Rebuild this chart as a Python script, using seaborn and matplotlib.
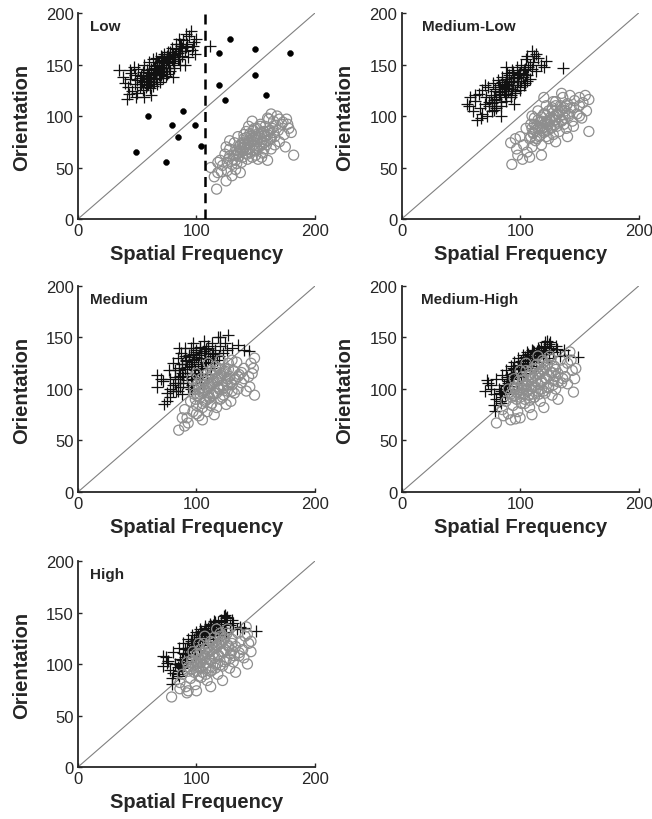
import numpy as np
import pandas as pd
import matplotlib
matplotlib.use("Agg")
import matplotlib.pyplot as plt
import seaborn as sns

# points (spatial frequency, orientation)
low_plus = [(35,145),(38,138),(41,117),(42,128),(44,136),(45,142),(46,124),(48,131),(48,140),(50,122),
            (50,135),(51,146),(52,128),(53,139),(54,133),(55,143),(55,125),(56,150),(57,137),(58,130),
            (58,145),(59,140),(60,152),(60,134),(61,127),(62,146),(62,138),(63,155),(64,142),(64,133),
            (65,149),(66,137),(66,156),(67,145),(68,140),(68,152),(69,133),(70,148),(70,158),(71,143),
            (72,153),(72,137),(73,160),(74,147),(75,141),(75,155),(76,162),(77,150),(78,144),(78,158),
            (79,166),(80,153),(81,147),(82,160),(83,170),(84,155),(85,163),(86,150),(87,168),(88,158),
            (89,174),(90,163),(92,170),(93,157),(94,178),(95,183),(97,168),(100,175),(98,172),(80,138),
            (62,120),(90,150),(111,168),(47,148),(56,118),(44,145),(40,132),(49,118),(43,121),(91,180),
            (96,164),(85,175),(99,160)]
low_plus_core = [(53,131),(56,134),(58,137),(61,136),(63,140),(65,143),(66,141),(68,146),(69,144),(71,150),
                 (72,147),(73,151),(74,153),(76,152),(77,156),(79,155),(80,159),(82,157),(84,161),(86,163),
                 (60,142),(64,147),(67,150),(70,154),(75,158),(78,162),(62,133),(66,136),(70,140),(73,144),
                 (77,147),(81,151),(85,155),(88,166),(57,128),(59,131),(63,129),(71,157),(83,165),(86,170),
                 (91,167),(74,139),(67,131),(55,140),(52,137)]
low_circ = [(117,29),(125,37),(112,50),(118,45),(120,57),(122,52),(124,63),(126,47),(127,58),(128,68),
            (130,53),(131,62),(132,74),(133,57),(134,67),(135,80),(136,61),(137,72),(138,55),(139,66),
            (140,78),(141,70),(142,85),(143,63),(144,74),(145,68),(146,80),(147,60),(148,72),(149,88),
            (150,66),(151,77),(152,83),(153,70),(154,92),(155,75),(156,64),(157,81),(158,90),(159,72),
            (160,85),(161,97),(162,78),(163,68),(164,88),(165,95),(166,80),(168,100),(169,86),(170,75),
            (172,92),(174,82),(176,97),(178,88),(182,62),(180,84),(160,57),(144,90),(133,48),(152,58),
            (166,72),(140,82),(128,76),(147,95),(155,60),(137,45),(170,97),(175,70),(115,41),(130,42),
            (160,98),(173,94),(177,92),(163,102),(125,70),(118,55)]
low_circ_core = [(131,58),(133,62),(135,64),(137,66),(138,69),(140,70),(141,73),(143,72),(144,76),(146,75),
                 (147,78),(149,77),(150,80),(152,79),(153,82),(155,84),(157,85),(158,80),(160,82),(162,86),
                 (136,70),(139,74),(142,79),(145,83),(148,86),(151,88),(154,90),(139,60),(142,64),(145,65),
                 (148,67),(151,69),(154,72),(157,74),(160,76),(163,78),(134,54),(128,61),(165,84),(167,91),
                 (143,58),(150,62),(157,68),(126,55),(121,46)]
low_dots = [(49,65),(59,100),(74,55),(79,91),(84,80),(89,105),(99,91),(104,71),(119,161),(128,175),
            (119,130),(124,116),(149,165),(149,140),(159,120),(179,161)]
low_cut = 107

medlow_plus = [(55,112),(58,118),(60,105),(62,115),(64,96),(65,121),(66,108),(68,102),(68,125),(70,112),
               (71,118),(72,100),(73,128),(74,110),(75,120),(76,105),(77,132),(78,116),(79,124),(80,110),
               (81,135),(82,120),(83,128),(84,114),(85,138),(86,124),(87,131),(88,118),(89,142),(90,127),
               (91,134),(92,120),(93,145),(94,130),(95,137),(96,124),(97,148),(98,134),(99,141),(100,128),
               (101,150),(102,138),(103,145),(104,132),(105,155),(106,140),(107,148),(108,136),(110,163),(111,152),
               (113,144),(115,156),(118,150),(122,153),(136,147),(84,100),(95,112),(70,130),(88,148),(112,158),
               (57,110),(62,120),(67,98),(113,160),(120,148),(106,158)]
medlow_plus_core = [(76,113),(78,118),(80,117),(82,123),(83,121),(85,126),(86,129),(88,127),(89,131),(91,130),
                    (92,134),(94,133),(95,138),(97,137),(98,140),(100,142),(102,141),(104,146),(79,126),(82,130),
                    (85,133),(88,136),(91,140),(94,143),(80,108),(84,110),(88,115),(92,118),(96,122),(100,125),
                    (103,130),(106,134),(87,121),(90,124),(93,126),(97,130),(101,134),(105,140),(74,114),(78,106),
                    (108,150),(110,146)]
medlow_circ = [(93,53),(92,74),(102,58),(97,68),(100,80),(103,72),(105,88),(106,65),(108,78),(109,92),
               (110,70),(111,84),(112,98),(113,76),(114,90),(115,105),(116,80),(117,94),(118,72),(119,88),
               (120,102),(121,85),(122,110),(123,92),(124,78),(125,98),(126,88),(127,106),(128,82),(129,96),
               (130,114),(131,90),(132,102),(133,85),(134,110),(135,96),(136,118),(137,92),(138,105),(139,88),
               (140,112),(141,100),(142,120),(144,95),(145,108),(146,115),(148,102),(150,110),(152,98),(155,120),
               (158,85),(156,105),(120,118),(130,75),(140,80),(110,100),(135,122),(118,62),(145,90),(150,118),
               (98,62),(96,78),(150,100),(153,113),(158,116),(108,60)]
medlow_circ_core = [(109,80),(111,83),(113,86),(115,88),(117,89),(119,91),(121,93),(123,95),(125,96),(127,98),
                    (129,100),(131,102),(133,104),(135,106),(137,108),(139,110),(112,92),(115,96),(118,99),(121,102),
                    (124,105),(127,108),(130,110),(114,78),(117,81),(120,84),(123,86),(126,89),(129,91),(132,93),
                    (135,95),(138,98),(141,102),(118,95),(124,92),(130,96),(136,101),(110,88),(143,108),(128,114),
                    (122,80)]

med_plus = [(67,114),(67,102),(73,85),(72,108),(75,96),(77,118),(78,92),(80,104),(80,125),(82,112),
            (83,98),(84,130),(85,118),(86,106),(87,135),(88,124),(89,112),(90,140),(91,128),(92,116),
            (93,102),(94,133),(95,122),(96,110),(97,145),(98,128),(99,118),(100,136),(101,124),(102,112),
            (103,141),(104,130),(105,120),(106,147),(107,135),(108,125),(109,115),(110,140),(111,130),(112,120),
            (113,145),(114,134),(115,125),(116,138),(117,128),(118,150),(119,132),(120,142),(122,135),(124,145),
            (127,152),(126,138),(130,140),(135,143),(144,137),(88,95),(95,100),(78,110),(85,140),(104,106),
            (70,110),(75,88),(82,118),(120,150),(140,138)]
med_plus_core = [(82,106),(84,110),(86,113),(88,116),(90,119),(92,121),(94,124),(96,126),(98,129),(100,131),
                 (102,133),(104,135),(106,137),(108,139),(110,142),(85,120),(88,124),(91,127),(94,131),(97,134),
                 (100,138),(103,140),(86,102),(89,106),(92,109),(95,113),(98,116),(101,119),(104,122),(107,126),
                 (110,129),(113,132),(116,135),(96,104),(100,110),(105,115),(90,132),(95,140),(84,98),(80,98),
                 (78,100)]
med_circ = [(85,60),(93,67),(90,80),(92,72),(95,88),(97,78),(98,95),(100,84),(101,105),(102,74),
            (103,92),(104,110),(105,82),(106,98),(107,88),(108,114),(109,78),(110,102),(111,92),(112,118),
            (113,86),(114,106),(115,96),(116,122),(117,82),(118,110),(119,100),(120,90),(121,115),(122,104),
            (123,94),(124,120),(125,108),(126,98),(127,125),(128,112),(129,88),(130,104),(131,118),(132,96),
            (133,110),(134,126),(135,100),(136,114),(138,106),(140,120),(142,98),(144,112),(146,125),(149,94),
            (149,130),(148,120),(100,115),(96,110),(105,70),(115,75),(125,85),(140,110),(120,128),(110,125),
            (88,72),(90,64),(145,102),(147,115),(100,76),(130,128)]
med_circ_core = [(99,90),(101,93),(103,95),(105,97),(107,99),(109,101),(111,103),(113,105),(115,107),(117,109),
                 (119,111),(121,113),(123,115),(125,117),(127,119),(104,104),(107,108),(110,111),(113,114),(116,117),
                 (119,120),(105,86),(108,89),(111,91),(114,94),(117,96),(120,99),(123,101),(126,104),(129,106),
                 (132,109),(135,112),(110,96),(118,102),(126,110),(102,100),(112,84),(122,92),(130,98),(138,116),
                 (98,100)]

medhigh_plus = [(72,109),(70,98),(79,79),(75,104),(78,95),(80,110),(82,100),(83,88),(85,114),(86,104),
                (87,95),(88,118),(90,108),(91,100),(92,122),(93,112),(95,126),(96,116),(97,106),(98,130),
                (100,120),(101,112),(102,133),(104,124),(105,116),(106,136),(108,128),(109,120),(110,138),(112,130),
                (113,122),(115,140),(116,132),(118,136),(119,126),(120,142),(122,134),(123,147),(124,130),(126,140),
                (128,136),(131,139),(134,132),(137,138),(149,131),(125,146),(113,135),(94,120),(84,98),(89,112),
                (75,100),(73,106),(84,86),(140,133),(130,142)]
medhigh_plus_core = [(83,96),(86,100),(88,103),(90,106),(92,110),(94,113),(96,116),(98,119),(100,122),(102,125),
                     (104,128),(106,130),(108,132),(110,134),(112,136),(114,137),(116,138),(118,140),(121,141),(89,110),
                     (92,115),(95,119),(98,123),(101,127),(104,131),(107,134),(111,137),(85,92),(87,97),(91,103),
                     (99,113),(103,118),(107,123),(111,127),(115,131),(119,134),(124,138),(80,90),(78,84),(121,146),
                     (124,144)]
medhigh_circ = [(80,67),(96,71),(85,80),(88,88),(90,76),(92,95),(94,84),(95,102),(97,90),(98,78),
                (99,108),(100,96),(101,86),(102,112),(103,100),(104,90),(105,118),(106,104),(107,94),(108,82),
                (109,114),(110,102),(111,120),(112,92),(113,108),(114,124),(115,98),(116,114),(117,88),(118,106),
                (119,128),(120,118),(121,96),(122,110),(123,124),(124,102),(125,132),(126,116),(127,94),(128,108),
                (129,122),(130,100),(132,115),(134,128),(135,106),(136,120),(138,112),(140,125),(142,136),(145,97),
                (144,118),(146,110),(90,100),(100,118),(110,75),(120,82),(132,90),(115,132),(105,125),(95,110),
                (86,74),(92,70),(100,72),(140,105),(143,128),(147,120)]
medhigh_circ_core = [(93,92),(95,94),(97,97),(99,99),(101,101),(103,103),(105,105),(107,107),(109,109),(111,111),
                     (113,113),(115,115),(117,117),(119,119),(121,121),(123,123),(100,92),(103,95),(106,98),(109,100),
                     (112,103),(115,105),(118,108),(121,111),(124,113),(127,116),(130,119),(104,86),(108,89),(112,92),
                     (116,95),(120,98),(124,101),(128,104),(132,107),(136,110),(96,100),(102,108),(108,114),(114,120),
                     (120,126),(126,129),(110,95),(118,100),(130,112)]

high_plus = [(72,108),(72,98),(79,81),(76,103),(78,94),(80,112),(82,100),(84,90),(85,116),(86,105),
             (88,96),(89,120),(90,110),(92,102),(93,124),(94,114),(96,128),(97,118),(98,108),(100,131),
             (101,122),(102,114),(103,134),(105,126),(106,118),(107,137),(109,129),(110,121),(111,139),(113,131),
             (114,124),(116,141),(117,133),(119,137),(120,128),(121,143),(123,135),(124,148),(125,131),(126,146),
             (128,138),(131,140),(134,134),(137,136),(150,132),(115,142),(95,122),(86,99),(90,115),(104,130),
             (75,101),(74,107),(85,88),(140,135),(130,143)]
high_plus_core = [(84,97),(86,101),(88,104),(90,107),(92,111),(94,114),(96,117),(98,120),(100,123),(102,126),
                  (104,129),(106,131),(108,133),(110,135),(112,137),(114,138),(116,139),(118,141),(121,142),(89,111),
                  (92,116),(95,120),(98,124),(101,128),(104,132),(107,135),(111,138),(85,93),(87,98),(91,104),
                  (99,114),(103,119),(107,124),(111,128),(115,132),(119,135),(124,139),(80,91),(79,86),(123,147),
                  (125,145)]
high_circ = [(79,68),(93,74),(86,82),(88,90),(91,78),(93,97),(95,86),(96,104),(98,92),(99,80),
             (100,110),(101,98),(102,88),(103,114),(104,102),(105,92),(106,120),(107,106),(108,96),(109,84),
             (110,116),(111,104),(112,122),(113,94),(114,110),(115,126),(116,100),(117,116),(118,90),(119,108),
             (120,130),(121,120),(122,98),(123,112),(124,126),(125,104),(126,134),(127,118),(128,96),(129,110),
             (130,124),(131,102),(133,117),(135,130),(136,108),(137,122),(139,114),(141,127),(142,136),(143,100),
             (144,120),(146,112),(92,102),(102,120),(112,78),(122,84),(133,92),(117,134),(107,127),(97,112),
             (86,76),(92,72),(100,74),(140,106),(143,129),(146,122)]
high_circ_core = [(93,93),(95,95),(97,98),(99,100),(101,102),(103,104),(105,106),(107,108),(109,110),(111,112),
                  (113,114),(115,116),(117,118),(119,120),(121,122),(123,124),(100,93),(103,96),(106,99),(109,101),
                  (112,104),(115,106),(118,109),(121,112),(124,114),(127,117),(130,120),(104,87),(108,90),(112,93),
                  (116,96),(120,99),(124,102),(128,105),(132,108),(136,111),(96,101),(102,109),(108,115),(114,121),
                  (120,127),(126,130),(110,96),(118,101),(130,113)]

panels = [("Low", low_plus + low_plus_core, low_circ + low_circ_core, 10),
          ("Medium-Low", medlow_plus + medlow_plus_core, medlow_circ + medlow_circ_core, 17),
          ("Medium", med_plus + med_plus_core, med_circ + med_circ_core, 10),
          ("Medium-High", medhigh_plus + medhigh_plus_core, medhigh_circ + medhigh_circ_core, 16),
          ("High", high_plus + high_plus_core, high_circ + high_circ_core, 10)]

sns.set_style("ticks")
plt.rcParams['font.family'] = ['Liberation Sans', 'DejaVu Sans']

fig = plt.figure(figsize=(6.52, 8.2), dpi=100)
lefts = [0.1196, 0.616]
bottoms = [0.7317, 0.3988, 0.0634]
w, h = 0.3635, 0.2512

for i, (name, plus, circ, tx) in enumerate(panels):
    ax = fig.add_axes([lefts[i % 2], bottoms[i // 2], w, h])
    ax.plot([0, 200], [0, 200], color="#808080", lw=0.8, zorder=1)
    dp = pd.DataFrame(plus, columns=["sf", "ori"])
    dc = pd.DataFrame(circ, columns=["sf", "ori"])
    sns.scatterplot(data=dp, x="sf", y="ori", ax=ax, marker="+", s=70,
                    color="#111111", linewidth=0.9, zorder=2)
    sns.scatterplot(data=dc, x="sf", y="ori", ax=ax, marker="o", s=52,
                    facecolor="none", edgecolor="#8e8e8e", linewidth=0.9, zorder=3)
    if name == "Low":
        dd = pd.DataFrame(low_dots, columns=["sf", "ori"])
        sns.scatterplot(data=dd, x="sf", y="ori", ax=ax, marker="o", s=18,
                        color="black", edgecolor="black", zorder=4)
        ax.axvline(low_cut, color="black", lw=1.8, ls=(0, (4, 2.5)), zorder=5)
    ax.text(tx, 187, name, fontsize=11, fontweight="bold", va="center", ha="left")
    ax.set_xlim(0, 200)
    ax.set_ylim(0, 200)
    ax.set_xticks([0, 100, 200])
    ax.set_yticks([0, 50, 100, 150, 200])
    ax.tick_params(direction="in", length=3, width=1, labelsize=12, pad=3)
    ax.set_xlabel("Spatial Frequency", fontsize=14.5, fontweight="bold", labelpad=4)
    ax.set_ylabel("Orientation", fontsize=14.5, fontweight="bold", labelpad=11)
    for sp in ["left", "bottom"]:
        ax.spines[sp].set_linewidth(1.3)
    sns.despine(ax=ax)

fig.savefig("out.png", dpi=100)
